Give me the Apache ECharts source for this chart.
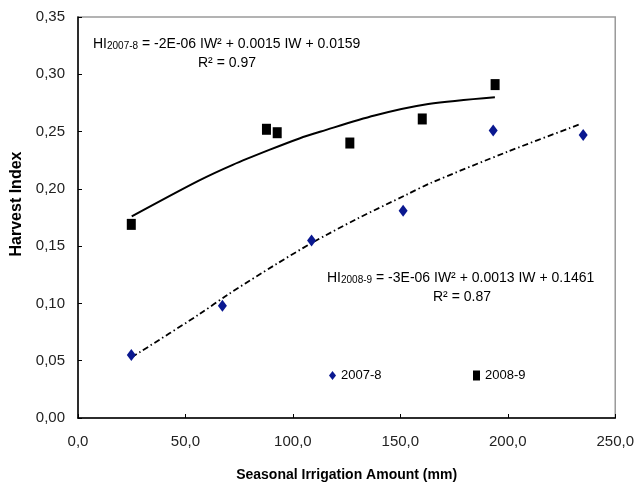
<!DOCTYPE html>
<html>
<head>
<meta charset="utf-8">
<script src="https://cdn.jsdelivr.net/npm/echarts@6/dist/echarts.min.js"></script>
<style>html,body{margin:0;padding:0;background:#fff}#c{width:637px;height:487px}</style>
</head>
<body>
<div id="c"></div>
<script>
// Diamonds: 2007-8
var irr0708 = [24.8, 67.2, 108.7, 151.3, 193.2, 235.1];
var hi0708 = [0.055, 0.098, 0.155, 0.181, 0.251, 0.247];
// Squares: 2008-9
var irr0809 = [24.8, 87.7, 92.7, 126.5, 160.2, 194.1];
var hi0809 = [0.169, 0.252, 0.249, 0.240, 0.261, 0.291];
// Trend line (solid, through squares)
var trendSolidX = [25, 56, 72, 89, 103, 113, 138, 163, 194];
var trendSolidY = [0.176, 0.207, 0.221, 0.234, 0.244, 0.250, 0.264, 0.274, 0.280];
// Trend line (dash-dot, through diamonds)
var trendDashX = [25, 56, 70, 92, 109, 130, 153, 164, 200, 233];
var trendDashY = [0.053, 0.090, 0.108, 0.134, 0.153, 0.174, 0.195, 0.205, 0.2325, 0.256];
// Axis ticks
var xTicks = [0, 50, 100, 150, 200, 250];
var yTicks = [0, 0.05, 0.10, 0.15, 0.20, 0.25, 0.30, 0.35];

function pairs(xs, ys) { return xs.map(function (x, i) { return [x, ys[i]]; }); }

var FONT = 'Liberation Sans, Arial, sans-serif';
var chart = echarts.init(document.getElementById('c'), null, { renderer: 'canvas' });
chart.setOption({
  animation: false,
  backgroundColor: '#ffffff',
  textStyle: { fontFamily: FONT },
  grid: { left: 78, right: 18, top: 17, bottom: 69, show: true, borderColor: '#9a9a9a', borderWidth: 1.5, backgroundColor: 'transparent' },
  xAxis: {
    type: 'value', min: xTicks[0], max: xTicks[xTicks.length - 1], interval: 50,
    name: 'Seasonal Irrigation Amount (mm)', nameLocation: 'middle', nameGap: 50,
    nameTextStyle: { fontFamily: FONT, fontWeight: 'bold', fontSize: 14, color: '#000' },
    axisLine: { show: true, onZero: false, lineStyle: { color: '#000', width: 1.5 } },
    axisTick: { show: true, inside: true, length: 4, lineStyle: { color: '#000' } },
    axisLabel: { margin: 16, fontSize: 15, color: '#222', fontFamily: FONT,
      formatter: function (v) { return v.toFixed(1).replace('.', ','); } },
    splitLine: { show: false }
  },
  yAxis: {
    type: 'value', min: yTicks[0], max: yTicks[yTicks.length - 1], interval: 0.05,
    name: 'Harvest Index', nameLocation: 'middle', nameGap: 51,
    nameTextStyle: { fontFamily: FONT, fontWeight: 'bold', fontSize: 16, color: '#000', padding: [0, 0, 0, 27] },
    axisLine: { show: true, onZero: false, lineStyle: { color: '#000', width: 1.5 } },
    axisTick: { show: true, inside: true, length: 4, lineStyle: { color: '#000' } },
    axisLabel: { margin: 13, fontSize: 15, color: '#222', fontFamily: FONT,
      formatter: function (v) { return v.toFixed(2).replace('.', ','); } },
    splitLine: { show: false }
  },
  legend: [
    { left: 329, top: 369, padding: 0, itemWidth: 7, itemHeight: 9, selectedMode: false,
      textStyle: { fontSize: 13, color: '#000', fontFamily: FONT },
      data: [{ name: '2007-8', icon: 'diamond' }] },
    { left: 473, top: 369, padding: 0, itemWidth: 7, itemHeight: 10, selectedMode: false,
      textStyle: { fontSize: 13, color: '#000', fontFamily: FONT },
      data: [{ name: '2008-9', icon: 'rect' }] }
  ],
  graphic: [
    { type: 'text', x: 93, y: 44, style: {
        text: 'HI{sub|2007-8} = -2E-06 IW\u00b2 + 0.0015 IW + 0.0159',
        font: '14px ' + FONT, fill: '#000', verticalAlign: 'middle', textVerticalAlign: 'middle',
        rich: { sub: { fontSize: 10, fontFamily: FONT, verticalAlign: 'bottom', padding: [4, 0, 0, 0] } } } },
    { type: 'text', x: 227, y: 63, style: { text: 'R\u00b2 = 0.97', font: '14px ' + FONT, fill: '#000',
        align: 'center', textAlign: 'center', verticalAlign: 'middle', textVerticalAlign: 'middle' } },
    { type: 'text', x: 327, y: 278, style: {
        text: 'HI{sub|2008-9} = -3E-06 IW\u00b2 + 0.0013 IW + 0.1461',
        font: '14px ' + FONT, fill: '#000', verticalAlign: 'middle', textVerticalAlign: 'middle',
        rich: { sub: { fontSize: 10, fontFamily: FONT, verticalAlign: 'bottom', padding: [4, 0, 0, 0] } } } },
    { type: 'text', x: 462, y: 297, style: { text: 'R\u00b2 = 0.87', font: '14px ' + FONT, fill: '#000',
        align: 'center', textAlign: 'center', verticalAlign: 'middle', textVerticalAlign: 'middle' } }
  ],
  series: [
    { name: 'trend 2008-9', type: 'line', data: pairs(trendSolidX, trendSolidY), smooth: 0.3,
      showSymbol: false, symbol: 'none', lineStyle: { color: '#000', width: 2 }, z: 1, silent: true },
    { name: 'trend 2007-8', type: 'line', data: pairs(trendDashX, trendDashY), smooth: 0.3,
      showSymbol: false, symbol: 'none', lineStyle: { color: '#000', width: 1.8, type: [6, 3, 1.5, 3] }, z: 1, silent: true },
    { name: '2007-8', type: 'scatter', data: pairs(irr0708, hi0708), symbol: 'diamond', symbolSize: [9, 12],
      itemStyle: { color: '#0a1890', opacity: 1 }, z: 3 },
    { name: '2008-9', type: 'scatter', data: pairs(irr0809, hi0809), symbol: 'rect', symbolSize: [9, 11],
      itemStyle: { color: '#000', opacity: 1 }, z: 3 }
  ]
});
</script>
</body>
</html>
